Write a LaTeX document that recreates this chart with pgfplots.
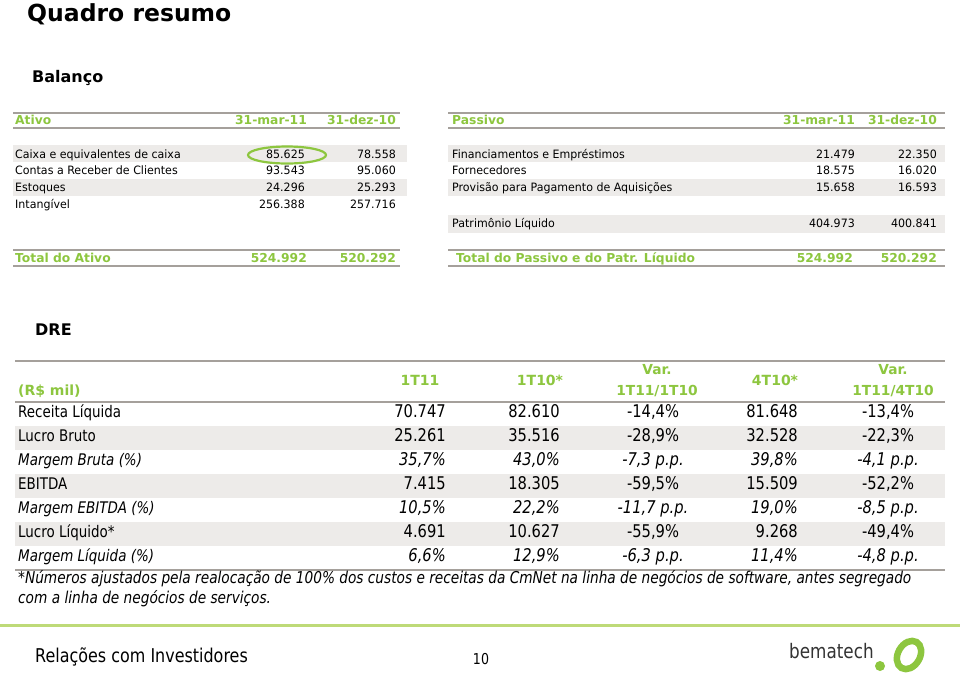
\documentclass[border=0pt]{standalone}
\usepackage{pgfplots}
\pgfplotsset{compat=1.18}
\usepackage{fontspec}
\setmainfont{DejaVu Sans}
\newfontfamily\cn[FakeStretch=0.84]{DejaVu Sans}
\newfontfamily\bd[FakeStretch=0.96]{DejaVu Sans}
\definecolor{verde}{RGB}{141,198,63}
\definecolor{linha}{RGB}{165,160,155}
\definecolor{faixa}{RGB}{237,235,233}
\definecolor{verdeclaro}{RGB}{190,218,120}
\newcommand\fs[1]{\fontsize{#1}{#1}\selectfont}
% balance rows: y, label, col1, col2, x of label, x of col1, x of col2
\newcommand\brow[7]{%
  \node[anchor=mid west,inner sep=0] at (axis cs:#5,#1) {\bd\fs{11.5}#2};
  \node[anchor=mid east,inner sep=0] at (axis cs:#6,#1) {\bd\fs{11.5}#3};
  \node[anchor=mid east,inner sep=0] at (axis cs:#7,#1) {\bd\fs{11.5}#4};}
% DRE rows: y, font, label, 1T11, 1T10, var, 4T10, var
\newcommand\drow[8]{%
  \node[anchor=mid west,inner sep=0] at (axis cs:18,#1) {\cn\fs{16}#2#3};
  \node[anchor=mid east,inner sep=0] at (axis cs:446,#1) {\cn\fs{17.5}#2#4};
  \node[anchor=mid east,inner sep=0] at (axis cs:560,#1) {\cn\fs{17.5}#2#5};
  \node[anchor=mid,inner sep=0] at (axis cs:653,#1) {\cn\fs{17.5}#2#6};
  \node[anchor=mid east,inner sep=0] at (axis cs:798,#1) {\cn\fs{17.5}#2#7};
  \node[anchor=mid,inner sep=0] at (axis cs:888,#1) {\cn\fs{17.5}#2#8};}
\begin{document}
\begin{tikzpicture}
\begin{axis}[width=960pt,height=681pt,scale only axis,
  xmin=0,xmax=960,ymin=0,ymax=681,y dir=reverse,
  hide axis,clip=false]
\fill[white] (axis cs:0,0) rectangle (axis cs:960,681);
% titles
\node[anchor=mid west,inner sep=0] at (axis cs:27,19) {\fs{23.5}\bfseries Quadro resumo};
\node[anchor=mid west,inner sep=0] at (axis cs:32,80) {\fs{16}\bfseries Balanço};

% ---- Ativo ----
\fill[faixa] (axis cs:13,145) rectangle (axis cs:407,162);
\fill[faixa] (axis cs:13,179) rectangle (axis cs:407,196);
\draw[linha,line width=1.5pt] (axis cs:13,113) -- (axis cs:400,113);
\draw[linha,line width=2pt] (axis cs:13,128) -- (axis cs:400,128);
\draw[linha,line width=2pt] (axis cs:13,250) -- (axis cs:400,250);
\draw[linha,line width=2pt] (axis cs:13,266) -- (axis cs:400,266);
\node[anchor=mid west,inner sep=0,text=verde] at (axis cs:15,121.5) {\fs{12.3}\bfseries Ativo};
\node[anchor=mid east,inner sep=0,text=verde] at (axis cs:307,121.5) {\fs{12.3}\bfseries 31-mar-11};
\node[anchor=mid east,inner sep=0,text=verde] at (axis cs:396,121.5) {\fs{12.3}\bfseries 31-dez-10};
\brow{156}{Caixa e equivalentes de caixa}{85.625}{78.558}{15}{305}{396}
\brow{172}{Contas a Receber de Clientes}{93.543}{95.060}{15}{305}{396}
\brow{189}{Estoques}{24.296}{25.293}{15}{305}{396}
\brow{206}{Intangível}{256.388}{257.716}{15}{305}{396}
\draw[verde,line width=2.2pt] (axis cs:287,155) ellipse [x radius=39pt,y radius=8.5pt];
\node[anchor=mid west,inner sep=0,text=verde] at (axis cs:15,259.5) {\fs{12.3}\bfseries Total do Ativo};
\node[anchor=mid east,inner sep=0,text=verde] at (axis cs:307,259.5) {\fs{12.3}\bfseries 524.992};
\node[anchor=mid east,inner sep=0,text=verde] at (axis cs:396,259.5) {\fs{12.3}\bfseries 520.292};

% ---- Passivo ----
\fill[faixa] (axis cs:448,145) rectangle (axis cs:945,162);
\fill[faixa] (axis cs:448,179) rectangle (axis cs:945,196);
\fill[faixa] (axis cs:448,215) rectangle (axis cs:945,233);
\draw[linha,line width=1.5pt] (axis cs:448,113) -- (axis cs:945,113);
\draw[linha,line width=2pt] (axis cs:448,128) -- (axis cs:945,128);
\draw[linha,line width=2pt] (axis cs:448,250) -- (axis cs:945,250);
\draw[linha,line width=2pt] (axis cs:448,266) -- (axis cs:945,266);
\node[anchor=mid west,inner sep=0,text=verde] at (axis cs:452,121.5) {\fs{12.3}\bfseries Passivo};
\node[anchor=mid east,inner sep=0,text=verde] at (axis cs:855,121.5) {\fs{12.3}\bfseries 31-mar-11};
\node[anchor=mid east,inner sep=0,text=verde] at (axis cs:937,121.5) {\fs{12.3}\bfseries 31-dez-10};
\brow{156}{Financiamentos e Empréstimos}{21.479}{22.350}{452}{855}{937}
\brow{172}{Fornecedores}{18.575}{16.020}{452}{855}{937}
\brow{189}{Provisão para Pagamento de Aquisições}{15.658}{16.593}{452}{855}{937}
\brow{225}{Patrimônio Líquido}{404.973}{400.841}{452}{855}{937}
\node[anchor=mid west,inner sep=0,text=verde] at (axis cs:456,259.5) {\fs{12.3}\bfseries Total do Passivo e do Patr. Líquido};
\node[anchor=mid east,inner sep=0,text=verde] at (axis cs:853,259.5) {\fs{12.3}\bfseries 524.992};
\node[anchor=mid east,inner sep=0,text=verde] at (axis cs:937,259.5) {\fs{12.3}\bfseries 520.292};

% ---- DRE ----
\node[anchor=mid west,inner sep=0] at (axis cs:35,333) {\fs{16}\bfseries DRE};
\fill[faixa] (axis cs:15,426) rectangle (axis cs:945,450);
\fill[faixa] (axis cs:15,474) rectangle (axis cs:945,498);
\fill[faixa] (axis cs:15,522) rectangle (axis cs:945,546);
\draw[linha,line width=1.5pt] (axis cs:15,361) -- (axis cs:945,361);
\draw[linha,line width=2.5pt] (axis cs:15,402) -- (axis cs:945,402);
\draw[linha,line width=2.5pt] (axis cs:15,570) -- (axis cs:945,570);
\node[anchor=mid west,inner sep=0,text=verde] at (axis cs:18,393) {\fs{14}\bfseries (R\$ mil)};
\node[anchor=mid,inner sep=0,text=verde] at (axis cs:420,383) {\fs{14}\bfseries 1T11};
\node[anchor=mid,inner sep=0,text=verde] at (axis cs:540,383) {\fs{14}\bfseries 1T10*};
\node[anchor=mid,inner sep=0,text=verde] at (axis cs:657,372) {\fs{13.8}\bfseries Var.};
\node[anchor=mid,inner sep=0,text=verde] at (axis cs:657,393) {\fs{13.8}\bfseries 1T11/1T10};
\node[anchor=mid,inner sep=0,text=verde] at (axis cs:775,383) {\fs{14}\bfseries 4T10*};
\node[anchor=mid,inner sep=0,text=verde] at (axis cs:893,372) {\fs{13.8}\bfseries Var.};
\node[anchor=mid,inner sep=0,text=verde] at (axis cs:893,393) {\fs{13.8}\bfseries 1T11/4T10};
\drow{415}{}{Receita Líquida}{70.747}{82.610}{-14,4\%}{81.648}{-13,4\%}
\drow{439}{}{Lucro Bruto}{25.261}{35.516}{-28,9\%}{32.528}{-22,3\%}
\drow{463}{\itshape}{Margem Bruta (\%)}{35,7\%}{43,0\%}{-7,3 p.p.}{39,8\%}{-4,1 p.p.}
\drow{487}{}{EBITDA}{7.415}{18.305}{-59,5\%}{15.509}{-52,2\%}
\drow{511}{\itshape}{Margem EBITDA (\%)}{10,5\%}{22,2\%}{-11,7 p.p.}{19,0\%}{-8,5 p.p.}
\drow{535}{}{Lucro Líquido*}{4.691}{10.627}{-55,9\%}{9.268}{-49,4\%}
\drow{559}{\itshape}{Margem Líquida (\%)}{6,6\%}{12,9\%}{-6,3 p.p.}{11,4\%}{-4,8 p.p.}
\node[anchor=mid west,inner sep=0] at (axis cs:18,581) {\cn\fs{16.3}\itshape *Números ajustados pela realocação de 100\% dos custos e receitas da CmNet na linha de negócios de software, antes segregado};
\node[anchor=mid west,inner sep=0] at (axis cs:18,601) {\cn\fs{16.3}\itshape com a linha de negócios de serviços.};

% ---- footer ----
\draw[verdeclaro,line width=3pt] (axis cs:0,625) -- (axis cs:960,625);
\node[anchor=mid west,inner sep=0] at (axis cs:35,660) {\cn\fs{19}Relações com Investidores};
\node[anchor=mid,inner sep=0] at (axis cs:481,662) {\cn\fs{15}10};
\node[anchor=mid west,inner sep=0,text=black!80] at (axis cs:789,656) {\cn\fs{20}bematech};
\fill[verde] (axis cs:880,666) circle (5pt);
\draw[verde,line width=6.5pt] (axis cs:909,655) ellipse [x radius=15pt,y radius=11pt,rotate=60];
\end{axis}
\pgfresetboundingbox
\path (current axis.south west) rectangle (current axis.north east);
\end{tikzpicture}
\end{document}
